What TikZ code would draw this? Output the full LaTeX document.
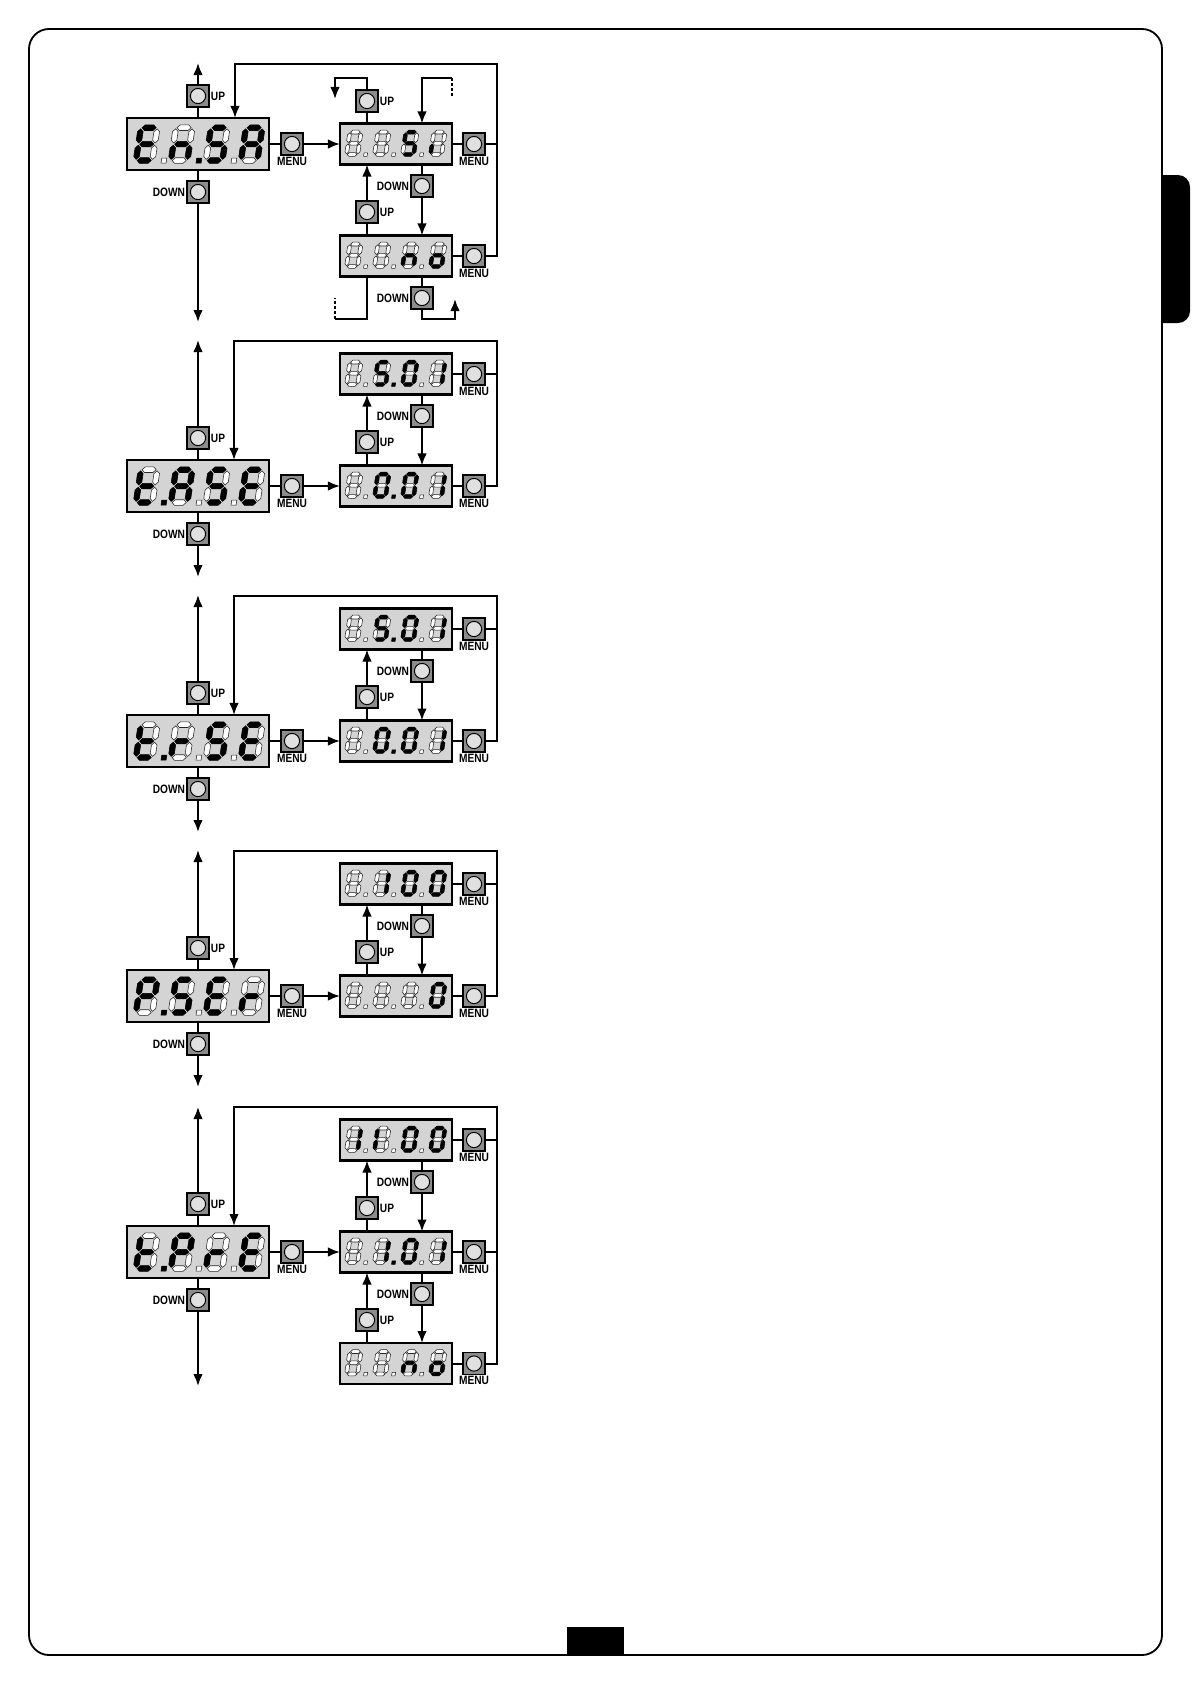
\documentclass[tikz,border=0pt]{standalone}
\usepackage{fontspec}
\newfontfamily\lblfont[FakeStretch=0.84]{Liberation Sans}
\usetikzlibrary{arrows.meta,positioning}
\newcommand{\hseg}[2]{\path[#2] (0.07,#1) -- (0.24,#1+0.17) -- (0.76,#1+0.17) -- (0.93,#1) -- (0.76,#1-0.17) -- (0.24,#1-0.17) -- cycle;}
\newcommand{\vseg}[3]{\path[#3] (#1,#2+0.07) -- (#1+0.17,#2+0.24) -- (#1+0.17,#2+0.76) -- (#1,#2+0.93) -- (#1-0.17,#2+0.76) -- (#1-0.17,#2+0.24) -- cycle;}
\def\segbits#1#2#3#4#5#6#7#8\relax{%
  \hseg{2}{seg#1}\vseg{1}{1}{seg#2}\vseg{1}{0}{seg#3}\hseg{0}{seg#4}%
  \vseg{0}{0}{seg#5}\vseg{0}{1}{seg#6}\hseg{1}{seg#7}%
  \path[seg#8] (1.55,-0.16) rectangle (1.86,0.15);}
\newcommand{\readout}[9]{%
  \foreach \k/\bits in {0/#6,1/#7,2/#8,3/#9} {
    \begin{scope}[shift={(#1.south west)},shift={(#4+\k*#3,-#5)},x=#2,y=#2,xslant=0.15]
      \expandafter\segbits\bits\relax
    \end{scope}}}
\newcommand{\bigread}[5]{\readout{#1}{0.41cm}{35}{9}{9.5}{#2}{#3}{#4}{#5}}
\newcommand{\smallread}[5]{\readout{#1}{0.28cm}{28}{6.5}{10}{#2}{#3}{#4}{#5}}
\newcommand{\upkey}[2]{\node[btn] (#1) at (#2) {}; \node[lbl,right=0pt of #1] (#1-l) {UP};}
\newcommand{\downkey}[2]{\node[btn] (#1) at (#2) {}; \node[lbl,left=0pt of #1] (#1-l) {DOWN};}
\newcommand{\menukey}[2]{\node[btn] (#1) at (#2) {}; \node[lbl,below=0pt of #1] (#1-l) {MENU};}
\tikzset{
  btn/.style={draw,line width=0.9pt,fill=black!45,minimum size=0.55cm,inner sep=0,outer sep=0,
    path picture={\draw[line width=0.7pt,fill=black!12] (path picture bounding box.center) circle (0.19cm);}},
  lbl/.style={font=\lblfont\bfseries\fontsize{8.6}{9}\selectfont,inner sep=1.2pt},
  wire/.style={line width=1.4pt},
  arr/.style={-{Latex[length=0.3cm,width=0.24cm]}},
  bigdisp/.style={draw,line width=1.7pt,fill=black!17,minimum width=3.55cm,minimum height=1.3cm,inner sep=0,outer sep=0},
  smalldisp/.style={bigdisp,minimum width=2.8cm,minimum height=1.025cm},
  seg0/.style={fill=white,draw=black!85,line width=0.4pt},
  seg1/.style={fill=black,draw=black,line width=0.4pt},
  segx/.style={}
}

\begin{document}
\begin{tikzpicture}[x=0.025cm,y=-0.025cm]
  \useasboundingbox (0,0) rectangle (1191,1684);
  \begin{scope}
    \clip (1162,0) rectangle (1191,1684);
    \fill[rounded corners=0.3cm] (1140,175) rectangle (1190,323);
  \end{scope}
  \draw[line width=1.3pt,rounded corners=0.5cm] (29,29) rectangle (1162,1655);
  \fill (567,1627) rectangle (624,1655);

  \node[bigdisp] (par1) at (198,144) {};
  \upkey{upL1}{198,96}
  \downkey{dnL1}{198,192}
  \coordinate (topL1) at (198,63);
  \coordinate (botL1) at (198,322);
  \draw[wire,arr] (upL1) -- (topL1);
  \draw[wire] (par1) -- (upL1);
  \draw[wire] (par1) -- (dnL1);
  \draw[wire,arr] (dnL1) -- (botL1);
  \menukey{mnP1}{292,144}
  \node[smalldisp] (hi1) at (396,144) {};
  \node[smalldisp] (lo1) at (396,256) {};
  \menukey{mnH1}{474,144}
  \menukey{mnL1}{474,256}
  \draw[wire] (par1) -- (mnP1);
  \draw[wire,arr] (mnP1) -- (hi1);
  \draw[wire] (hi1) -- (mnH1);
  \draw[wire] (lo1) -- (mnL1);
  \coordinate (lpB1) at (497,64);
  \coordinate (lpC1) at (235,64);
  \draw[wire,arr] (mnL1) -| (lpB1) -- (lpC1) -- (par1.north -| lpC1);
  \draw[wire] (mnH1) -- (mnH1 -| lpB1);
  \downkey{dnM1}{422,186}
  \upkey{upM1}{367,212}
  \draw[wire] (hi1.south -| dnM1) -- (dnM1);
  \draw[wire,arr] (dnM1) -- (dnM1 |- lo1.north);
  \draw[wire] (lo1.north -| upM1) -- (upM1);
  \draw[wire,arr] (upM1) -- (upM1 |- hi1.south);
  \upkey{upT1}{367,101}
  \draw[wire] (hi1.north -| upT1) -- (upT1);
  \coordinate (wpA1) at (367,78);
  \coordinate (wpB1) at (335,99);
  \draw[wire,arr] (upT1) -- (wpA1) -| (wpB1);
  \coordinate (wpC1) at (452,78);
  \coordinate (wpD1) at (452,98);
  \draw[wire,dash pattern=on 2pt off 1.6pt] (wpC1) -- (wpD1);
  \draw[wire,arr] (wpC1) -| (hi1.north -| dnM1);
  \downkey{dnB1}{422,298}
  \draw[wire] (lo1.south -| dnB1) -- (dnB1);
  \coordinate (wpE1) at (455,319);
  \coordinate (wpF1) at (455,299);
  \draw[wire,arr] (dnB1) |- (wpE1) -- (wpF1);
  \coordinate (wpG1) at (335,319);
  \coordinate (wpH1) at (335,298);
  \draw[wire] (lo1.south -| upM1) |- (wpG1);
  \draw[wire,dash pattern=on 2pt off 1.6pt] (wpG1) -- (wpH1);

  \foreach \b/\Y in {2/486,3/741,4/996} {
    \node[bigdisp] (par\b) at (198,\Y) {};
    \upkey{upL\b}{198,\Y-48}
    \downkey{dnL\b}{198,\Y+48}
    \coordinate (topL\b) at (198,\Y-146);
    \coordinate (botL\b) at (198,\Y+91);
    \draw[wire,arr] (upL\b) -- (topL\b);
    \draw[wire] (par\b) -- (upL\b);
    \draw[wire] (par\b) -- (dnL\b);
    \draw[wire,arr] (dnL\b) -- (botL\b);
    \menukey{mnP\b}{292,\Y}
    \node[smalldisp] (hi\b) at (396,\Y-112) {};
    \node[smalldisp] (lo\b) at (396,\Y) {};
    \menukey{mnH\b}{474,\Y-112}
    \menukey{mnL\b}{474,\Y}
    \draw[wire] (par\b) -- (mnP\b);
    \draw[wire,arr] (mnP\b) -- (lo\b);
    \draw[wire] (hi\b) -- (mnH\b);
    \draw[wire] (lo\b) -- (mnL\b);
    \coordinate (lpB\b) at (497,\Y-145);
    \coordinate (lpC\b) at (234,\Y-145);
    \draw[wire,arr] (mnL\b) -| (lpB\b) -- (lpC\b) -- (par\b.north -| lpC\b);
    \draw[wire] (mnH\b) -- (mnH\b -| lpB\b);
    \downkey{dnM\b}{422,\Y-70}
    \upkey{upM\b}{367,\Y-44}
    \draw[wire] (hi\b.south -| dnM\b) -- (dnM\b);
    \draw[wire,arr] (dnM\b) -- (dnM\b |- lo\b.north);
    \draw[wire] (lo\b.north -| upM\b) -- (upM\b);
    \draw[wire,arr] (upM\b) -- (upM\b |- hi\b.south);
  }

  \node[bigdisp] (par5) at (198,1252) {};
  \upkey{upL5}{198,1204}
  \downkey{dnL5}{198,1300}
  \coordinate (topL5) at (198,1107);
  \coordinate (botL5) at (198,1386);
  \draw[wire,arr] (upL5) -- (topL5);
  \draw[wire] (par5) -- (upL5);
  \draw[wire] (par5) -- (dnL5);
  \draw[wire,arr] (dnL5) -- (botL5);
  \menukey{mnP5}{292,1252}
  \node[smalldisp] (hi5) at (396,1140) {};
  \node[smalldisp] (md5) at (396,1252) {};
  \node[smalldisp] (lo5) at (396,1363.5) {};
  \menukey{mnH5}{474,1140}
  \menukey{mnM5}{474,1252}
  \menukey{mnL5}{474,1363.5}
  \draw[wire] (par5) -- (mnP5);
  \draw[wire,arr] (mnP5) -- (md5);
  \draw[wire] (hi5) -- (mnH5);
  \draw[wire] (md5) -- (mnM5);
  \draw[wire] (lo5) -- (mnL5);
  \coordinate (lpB5) at (497,1107);
  \coordinate (lpC5) at (234,1107);
  \draw[wire,arr] (mnL5) -| (lpB5) -- (lpC5) -- (par5.north -| lpC5);
  \draw[wire] (mnH5) -- (mnH5 -| lpB5);
  \draw[wire] (mnM5) -- (mnM5 -| lpB5);
  \downkey{dnM5}{422,1182}
  \upkey{upM5}{367,1208}
  \draw[wire] (hi5.south -| dnM5) -- (dnM5);
  \draw[wire,arr] (dnM5) -- (dnM5 |- md5.north);
  \draw[wire] (md5.north -| upM5) -- (upM5);
  \draw[wire,arr] (upM5) -- (upM5 |- hi5.south);
  \downkey{dnN5}{422,1294}
  \upkey{upN5}{367,1320}
  \draw[wire] (md5.south -| dnN5) -- (dnN5);
  \draw[wire,arr] (dnN5) -- (dnN5 |- lo5.north);
  \draw[wire] (lo5.north -| upN5) -- (upN5);
  \draw[wire,arr] (upN5) -- (upN5 |- md5.south);

  \bigread{par1}{10011110}{00101011}{10110110}{1110111x}
  \smallread{hi1}{00000000}{00000000}{10110110}{0000100x}
  \smallread{lo1}{00000000}{00000000}{00101010}{0011101x}
  \bigread{par2}{00011111}{11101110}{10110110}{1001111x}
  \smallread{hi2}{00000000}{10110111}{11111100}{0110000x}
  \smallread{lo2}{00000000}{11111101}{11111100}{0110000x}
  \bigread{par3}{00011111}{00001010}{10110110}{1001111x}
  \smallread{hi3}{00000000}{10110111}{11111100}{0110000x}
  \smallread{lo3}{00000000}{11111101}{11111100}{0110000x}
  \bigread{par4}{11001111}{10110110}{10011110}{0000101x}
  \smallread{hi4}{00000000}{01100000}{11111100}{1111110x}
  \smallread{lo4}{00000000}{00000000}{00000000}{1111110x}
  \bigread{par5}{00011111}{11001110}{00001010}{1001111x}
  \smallread{hi5}{01100000}{00001100}{11111100}{1111110x}
  \smallread{md5}{00000000}{01100001}{11111100}{0110000x}
  \smallread{lo5}{00000000}{00000000}{00101010}{0011101x}
\end{tikzpicture}
\end{document}
